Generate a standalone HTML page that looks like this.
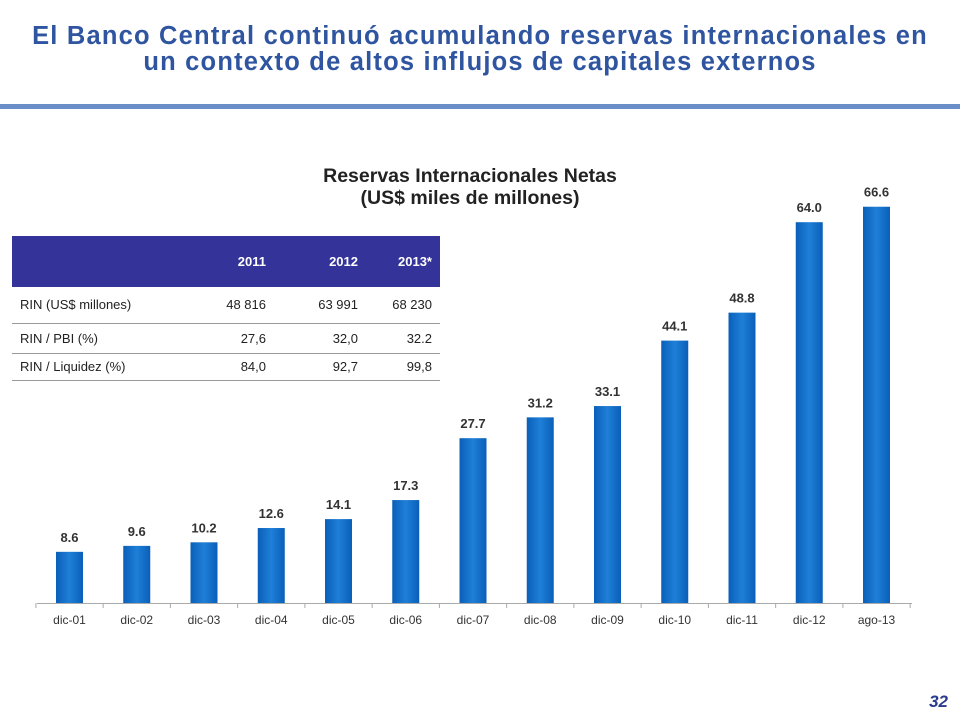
<!DOCTYPE html>
<html><head><meta charset="utf-8"><style>
body{margin:0;width:960px;height:720px;background:#fff;font-family:"Liberation Sans",sans-serif;position:relative;overflow:hidden}
.title{position:absolute;left:0;top:23px;width:960px;text-align:center;color:#2f55a0;font-size:25.5px;font-weight:bold;line-height:26px;letter-spacing:1.2px}
.rule{position:absolute;left:0;top:104px;width:960px;height:5px;background:#6a8fc8}
.ctitle{position:absolute;left:250px;top:165px;width:440px;text-align:center;font-weight:bold;font-size:19.5px;line-height:22px;color:#222}
table{position:absolute;left:12px;top:236px;width:428px;border-collapse:collapse;font-size:13px;color:#222}
td{padding:0 8px;text-align:right}
td:first-child{text-align:left}
.pg{position:absolute;right:12px;top:692px;font-size:17px;font-weight:bold;font-style:italic;color:#2a3a8c}
</style></head><body>
<div class="title">El Banco Central continuó acumulando reservas internacionales en<br>un contexto de altos influjos de capitales externos</div>
<div class="rule"></div>
<div class="ctitle">Reservas Internacionales Netas<br>(US$ miles de millones)</div>
<table>
<tr style="background:#333399;color:#fff;height:51px;font-weight:bold"><td style="width:150px"></td><td style="width:80px">2011</td><td style="width:76px">2012</td><td>2013*</td></tr>
<tr style="height:36px;border-bottom:1px solid #999"><td>RIN (US$ millones)</td><td>48 816</td><td>63 991</td><td>68 230</td></tr>
<tr style="height:30px;border-bottom:1px solid #999"><td>RIN / PBI (%)</td><td>27,6</td><td>32,0</td><td>32.2</td></tr>
<tr style="height:27px;border-bottom:1px solid #999"><td>RIN / Liquidez (%)</td><td>84,0</td><td>92,7</td><td>99,8</td></tr>
</table>
<svg id="ch" width="960" height="720" style="position:absolute;left:0;top:0">
<defs><linearGradient id="g" x1="0" x2="1"><stop offset="0" stop-color="#0a5fb8"/><stop offset="0.5" stop-color="#1f7fd8"/><stop offset="1" stop-color="#0a5fb8"/></linearGradient></defs>
</svg>
<div class="pg">32</div>
<script>
const categories=["dic-01","dic-02","dic-03","dic-04","dic-05","dic-06","dic-07","dic-08","dic-09","dic-10","dic-11","dic-12","ago-13"];
const values=[8.6,9.6,10.2,12.6,14.1,17.3,27.7,31.2,33.1,44.1,48.8,64.0,66.6];
const svg=document.getElementById('ch');const NS='http://www.w3.org/2000/svg';
const x=i=>69.5+67.25*i;const y=v=>603-v*5.95;
function mk(t,a){const e=document.createElementNS(NS,t);for(const k in a)e.setAttribute(k,a[k]);svg.appendChild(e);return e;}
const ax=mk('line',{x1:37,x2:912,y1:603.5,y2:603.5,stroke:'#aaa'});


for(let i=0;i<=categories.length;i++){const tk=mk('line',{x1:x(i)-33.6,x2:x(i)-33.6,y1:603,y2:608,stroke:'#aaa'});

}
values.forEach((v,i)=>{
const b=mk('rect',{x:x(i)-13.5,y:y(v),width:27,height:603-y(v),fill:'url(#g)'});


const l=mk('text',{x:x(i),y:y(v)-10,'text-anchor':'middle','font-size':13,'font-weight':'bold',fill:'#333'});l.textContent=v.toFixed(1);


const c=mk('text',{x:x(i),y:624,'text-anchor':'middle','font-size':12,fill:'#333'});c.textContent=categories[i];


});
</script>
</body></html>
